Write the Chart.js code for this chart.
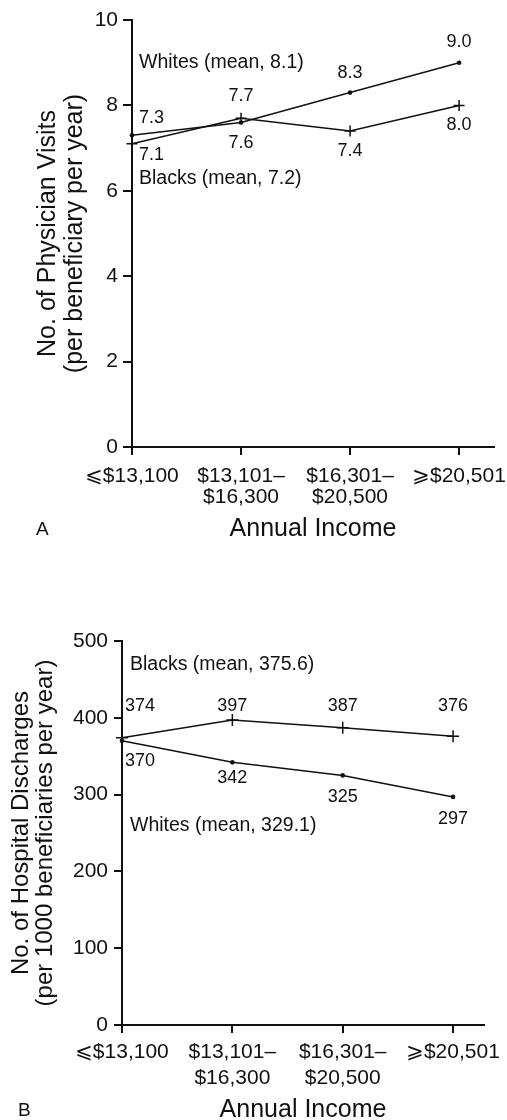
<!DOCTYPE html>
<html>
<head>
<meta charset="utf-8">
<script src="https://cdn.jsdelivr.net/npm/chart.js@4.4.1/dist/chart.umd.min.js"></script>
<style>
  html, body { margin: 0; padding: 0; background: #fff; overflow: hidden; width: 507px; height: 1120px; }
  .panel { position: absolute; left: 0; width: 507px; }
  #wrapA { top: 0; height: 560px; }
  #wrapB { top: 560px; height: 566px; }
</style>
</head>
<body>
<div class="panel" id="wrapA"><canvas id="chartA"></canvas></div>
<div class="panel" id="wrapB"><canvas id="chartB"></canvas></div>
<script>
// Income brackets (x categories)
const incomeLabels = [['⩽$13,100'], ['$13,101–', '$16,300'], ['$16,301–', '$20,500'], ['⩾$20,501']];

// Panel A: physician visits per beneficiary per year
const visitsWhites = [7.3, 7.6, 8.3, 9.0];
const visitsBlacks = [7.1, 7.7, 7.4, 8.0];
const visitsMeanWhites = 8.1;
const visitsMeanBlacks = 7.2;

// Panel B: hospital discharges per 1000 beneficiaries per year
const dischargesWhites = [370, 342, 325, 297];
const dischargesBlacks = [374, 397, 387, 376];
const dischargesMeanWhites = 329.1;
const dischargesMeanBlacks = 375.6;

const FONT = "'Liberation Sans', Arial, Helvetica, 'DejaVu Sans', sans-serif";
const INK = '#111';
Chart.defaults.font.family = FONT;
Chart.defaults.color = INK;

const toPoints = vals => vals.map((v, i) => ({ x: i, y: v }));

// Writes each point's value next to it, plus free text notes and the panel letter
const annotatePlugin = {
  id: 'annotate',
  afterDatasetsDraw(chart, args, opts) {
    const ctx = chart.ctx;
    const yScale = chart.scales.y;
    ctx.save();
    ctx.fillStyle = INK;
    ctx.textBaseline = 'middle';
    ctx.font = `18px ${FONT}`;
    chart.data.datasets.forEach((ds, di) => {
      const meta = chart.getDatasetMeta(di);
      meta.data.forEach((pt, i) => {
        const off = ds.labelOffsets[i];
        ctx.textAlign = off[2] || 'center';
        const v = ds.data[i].y;
        ctx.fillText(opts.format(v), pt.x + off[0], pt.y + off[1]);
      });
    });
    ctx.font = `19.5px ${FONT}`;
    ctx.textAlign = 'left';
    opts.notes.forEach(n => {
      ctx.fillText(n.text, chart.chartArea.left + n.dx, yScale.getPixelForValue(n.y));
    });
    ctx.font = `19px ${FONT}`;
    ctx.fillText(opts.letter.text, opts.letter.x, opts.letter.y);
    ctx.restore();
  }
};

function makeChart(id, cfg) {
  return new Chart(document.getElementById(id), {
    type: 'line',
    data: {
      datasets: [
        {
          label: 'Whites',
          data: toPoints(cfg.whites),
          borderColor: INK, backgroundColor: INK, borderWidth: 1.5,
          pointStyle: 'circle', pointRadius: 2.3, pointBorderWidth: 0,
          pointBackgroundColor: INK, tension: 0, clip: false,
          labelOffsets: cfg.whiteOffsets
        },
        {
          label: 'Blacks',
          data: toPoints(cfg.blacks),
          borderColor: INK, backgroundColor: INK, borderWidth: 1.5,
          pointStyle: 'cross', pointRadius: cfg.crossRadius, pointBorderWidth: 1.5,
          pointBorderColor: INK, tension: 0, clip: false,
          labelOffsets: cfg.blackOffsets
        }
      ]
    },
    options: {
      responsive: true,
      maintainAspectRatio: false,
      animation: false,
      events: [],
      layout: { padding: cfg.padding },
      plugins: {
        legend: { display: false },
        tooltip: { enabled: false },
        annotate: { format: cfg.format, notes: cfg.notes, letter: cfg.letter }
      },
      scales: {
        x: {
          type: 'linear',
          min: 0,
          max: cfg.xMax,
          afterBuildTicks: s => { s.ticks = incomeLabels.map((_, i) => ({ value: i })); },
          afterFit: s => { s.height = cfg.xHeight; s.paddingLeft = 0; s.paddingRight = 0; },
          grid: { drawOnChartArea: false, drawTicks: true, tickLength: 8, color: INK, lineWidth: 2 },
          border: { display: true, color: INK, width: 2 },
          ticks: {
            autoSkip: false, maxRotation: 0, padding: cfg.xTickPad, color: INK,
            font: { size: 21, lineHeight: cfg.xTickLine },
            callback: v => incomeLabels[v]
          },
          title: {
            display: true, text: 'Annual Income', color: INK, padding: 0,
            font: { size: 25, lineHeight: 1.1 }
          }
        },
        y: {
          min: 0,
          max: cfg.yMax,
          afterBuildTicks: s => { s.ticks = cfg.yTicks.map(v => ({ value: v })); },
          afterFit: s => { s.width = cfg.yWidth; s.paddingTop = 0; s.paddingBottom = 0; },
          grid: { drawOnChartArea: false, drawTicks: true, tickLength: cfg.yTickLen, color: INK, lineWidth: 2 },
          border: { display: true, color: INK, width: 2 },
          ticks: { padding: cfg.yTickPad, color: INK, font: { size: 21 } },
          title: {
            display: true, text: cfg.yTitle, color: INK, padding: 0,
            font: { size: cfg.yTitleSize, lineHeight: cfg.yTitleLine }
          }
        }
      }
    },
    plugins: [annotatePlugin]
  });
}

makeChart('chartA', {
  whites: visitsWhites,
  blacks: visitsBlacks,
  yTicks: [0, 2, 4, 6, 8, 10],
  yMax: 10,
  xMax: 3.32,
  yTitle: ['No. of Physician Visits', '(per beneficiary per year)'],
  yTitleSize: 25, yTitleLine: 1.1,
  padding: { top: 20, left: 34, right: 13, bottom: 17 },
  yWidth: 98, yTickLen: 9, yTickPad: 5,
  xHeight: 96, xTickPad: 11, xTickLine: '21px',
  crossRadius: 5.5,
  format: v => v.toFixed(1),
  whiteOffsets: [[7, -17, 'left'], [0, 21], [0, -20], [0, -21]],
  blackOffsets: [[7, 11, 'left'], [0, -22], [0, 20], [0, 20]],
  notes: [
    { text: `Whites (mean, ${visitsMeanWhites})`, y: 9.0, dx: 7 },
    { text: `Blacks (mean, ${visitsMeanBlacks})`, y: 6.28, dx: 7 }
  ],
  letter: { text: 'A', x: 36, y: 530 }
});

makeChart('chartB', {
  whites: dischargesWhites,
  blacks: dischargesBlacks,
  yTicks: [0, 100, 200, 300, 400, 500],
  yMax: 500,
  xMax: 3.28,
  yTitle: ['No. of Hospital Discharges', '(per 1000 beneficiaries per year)'],
  yTitleSize: 24, yTitleLine: '23.5px',
  padding: { top: 81, left: 10, right: 23, bottom: 2 },
  yWidth: 112, yTickLen: 8, yTickPad: 6,
  xHeight: 99, xTickPad: 6, xTickLine: '26px',
  crossRadius: 6,
  format: v => String(Math.round(v)),
  whiteOffsets: [[3, 20, 'left'], [0, 16], [0, 22], [0, 22]],
  blackOffsets: [[3, -32, 'left'], [0, -14], [0, -22], [0, -30]],
  notes: [
    { text: `Blacks (mean, ${dischargesMeanBlacks})`, y: 468.8, dx: 8 },
    { text: `Whites (mean, ${dischargesMeanWhites})`, y: 259.1, dx: 8 }
  ],
  letter: { text: 'B', x: 18, y: 551 }
});
</script>
</body>
</html>
